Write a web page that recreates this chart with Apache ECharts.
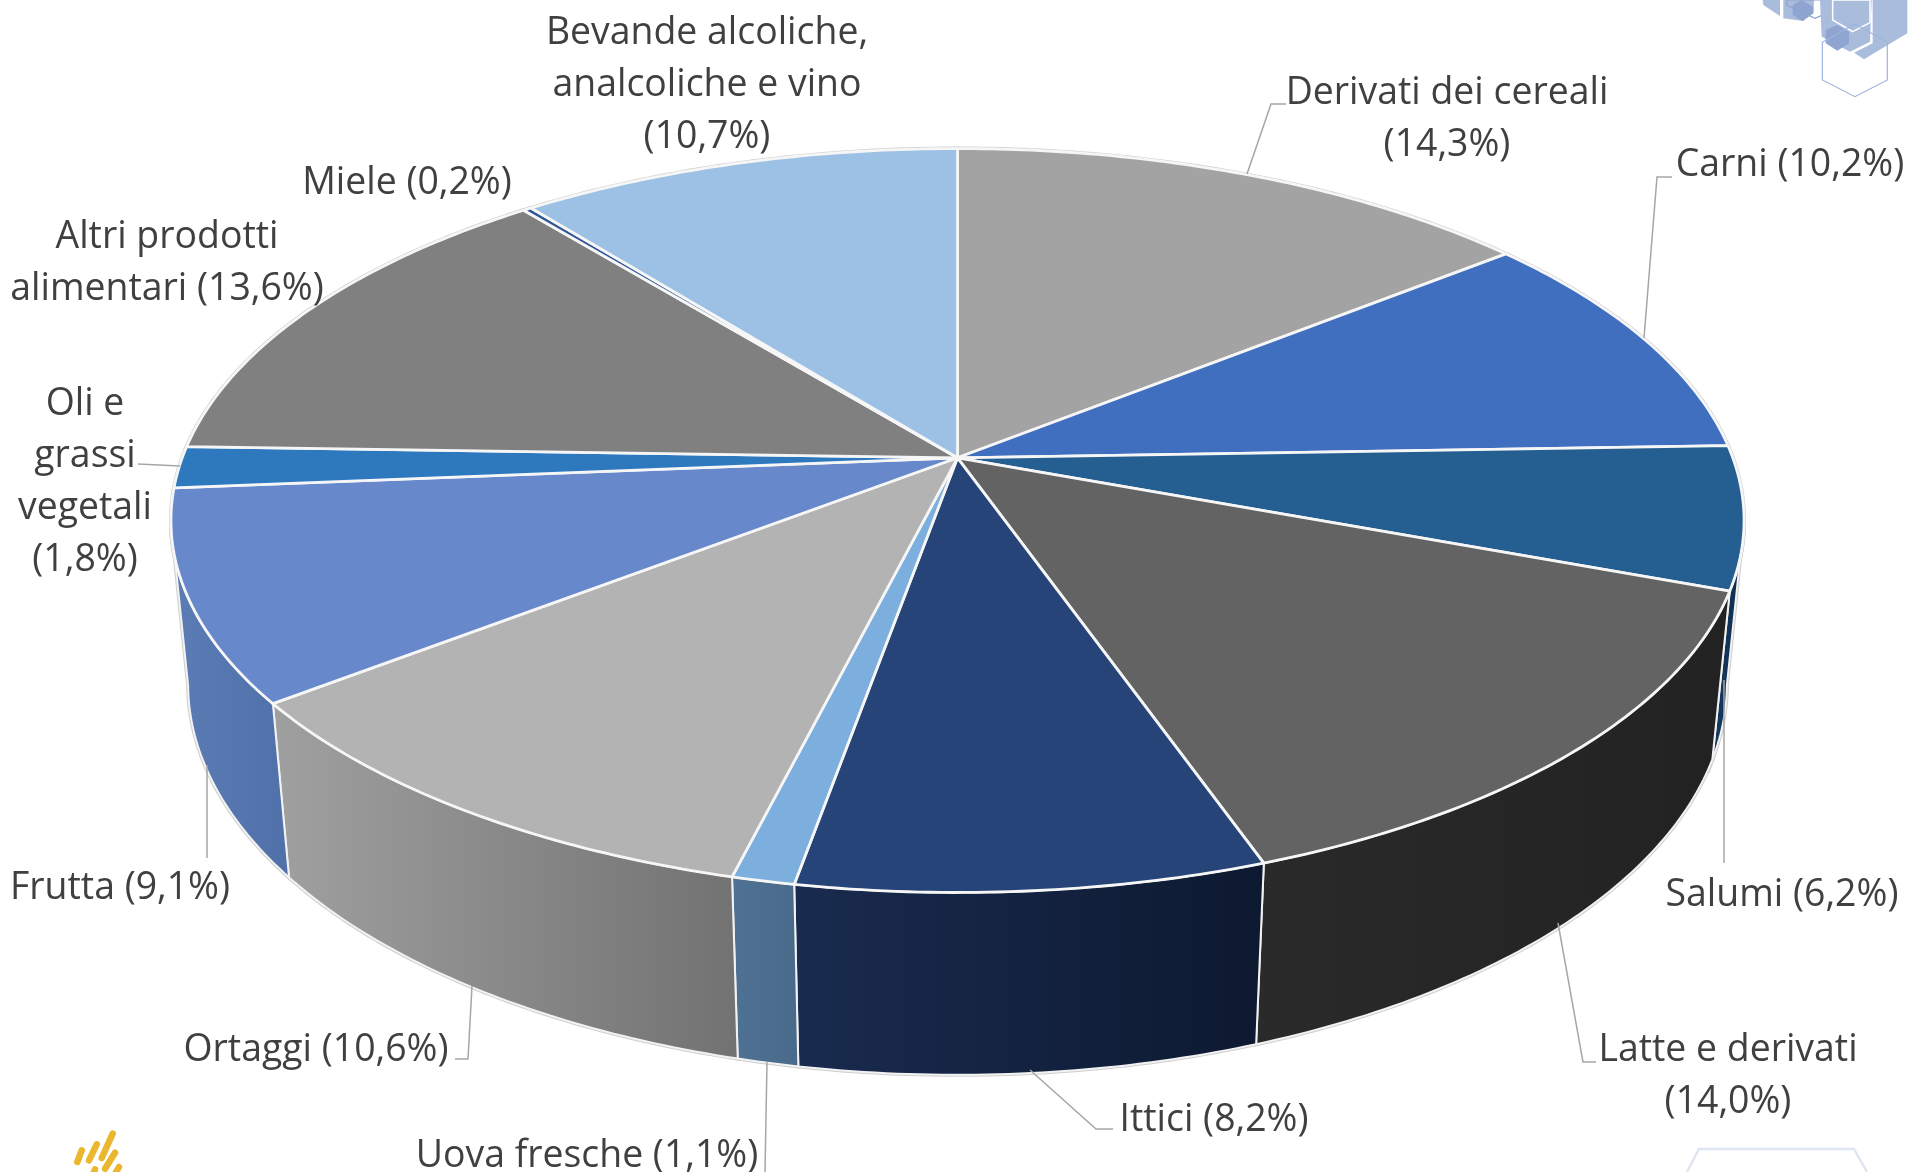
<!DOCTYPE html>
<html>
<head>
<meta charset="utf-8">
<title>Composizione</title>
<script src="https://cdn.jsdelivr.net/npm/echarts@6/dist/echarts.min.js"></script>
<style>
	html, body { margin: 0; padding: 0; background: #fff; }
	#main { width: 1909px; height: 1172px; }
</style>
</head>
<body>
<div id="main"></div>
<script>
// slices, clockwise from 12 o'clock
var categories = [
	'Derivati dei cereali',
	'Carni',
	'Salumi',
	'Latte e derivati',
	'Ittici',
	'Uova fresche',
	'Ortaggi',
	'Frutta',
	'Oli e\ngrassi\nvegetali',
	'Altri prodotti\nalimentari',
	'Miele',
	'Bevande alcoliche,\nanalcoliche e vino',
]
// they round to the printed labels
var values = [14.28, 10.18, 6.18, 13.96, 8.2, 1.1, 10.64, 9.14, 1.8, 13.6, 0.2, 10.7]

var topColors = [
	'#a3a3a3', '#416fc0', '#255e91', '#636363', '#264478', '#7cafdd',
	'#b3b3b3', '#6888cc', '#2e79be', '#808080', '#2f5597', '#9dc1e4',
]
var wallColorsFrom = [
	'#7a7a7a', '#2f4f88', '#153c63', '#2a2a2a', '#192b4f', '#4f7194',
	'#a0a0a0', '#5c7cb6', '#1f5485', '#595959', '#203b69', '#6d87a0',
]
var wallColorsTo = [
	'#7a7a7a', '#2f4f88', '#0e2a4a', '#222222', '#0d1930', '#496a8a',
	'#727272', '#5070a9', '#1f5485', '#595959', '#203b69', '#6d87a0',
]

// label block centres, same order as categories
var labelX = [1447, 1790, 1782, 1728, 1214, 587, 316, 120, 85, 167, 407, 707]
var labelY = [119, 165, 895, 1076, 1120, 1156, 1050, 888, 482, 263, 183, 85]
var labelBreak = [true, false, false, true, false, false, false, false, true, false, false, true]

// leader lines, measured on the picture
var leaderLines = [
	[[1247, 174], [1271, 104], [1286, 104]],
	[[1644, 338], [1657, 177], [1672, 177]],
	[[1724, 680], [1724, 863]],
	[[1558, 923], [1583, 1062], [1596, 1062]],
	[[1030, 1070], [1096, 1129], [1113, 1129]],
	[[767, 1062], [765, 1172]],
	[[472, 986], [468, 1059], [455, 1059]],
	[[207, 765], [207, 858]],
	[[180, 466], [138, 464]],
]

// projection of the tilted disc: centre, radii, perspective, wall height
var cx = 957.5
var cy = 457.8
var rx = 775.3
var ry = 361.4
var persp = 0.1686
var wallPersp = 0.0217
var wallDrop = 165

function project(frac, radial, depth) {
	var a = frac * Math.PI * 2
	var c = Math.sin(a)
	var s = -Math.cos(a)
	var w = 1 - persp * s * radial + wallPersp * depth
	return [cx + (rx * radial * c) / w, cy + (ry * radial * s + wallDrop * depth) / w]
}

// the wall is only seen on the front part of the rim
var frontStart = Math.acos(-persp) / (Math.PI * 2)
var frontEnd = 1 - frontStart

function arcFracs(from, to) {
	var list = []
	var n = Math.max(2, Math.ceil((to - from) / 0.002))
	for (var i = 0; i <= n; i++) {
		list.push(from + ((to - from) * i) / n)
	}
	return list
}

function topPoints(start, end) {
	var pts = [project(0, 0, 0)]
	arcFracs(start, end).forEach(function (f) {
		pts.push(project(f, 1, 0))
	})
	return pts
}

function wallPoints(start, end) {
	var from = Math.max(start, frontStart)
	var to = Math.min(end, frontEnd)
	if (to <= from) return null
	var fracs = arcFracs(from, to)
	var pts = fracs.map(function (f) {
		return project(f, 1, 0)
	})
	fracs.reverse().forEach(function (f) {
		pts.push(project(f, 1, 1))
	})
	return pts
}

function renderRim(params, api) {
	var children = [
		{
			type: 'polygon',
			shape: { points: topPoints(api.value(0), api.value(1)) },
			style: { fill: 'none', stroke: '#cfcfcf', lineWidth: 4 },
		},
	]
	var wall = wallPoints(api.value(0), api.value(1))
	if (wall) {
		children.push({
			type: 'polygon',
			shape: { points: wall },
			style: { fill: 'none', stroke: '#cfcfcf', lineWidth: 4 },
		})
	}
	return { type: 'group', children: children }
}

function renderWall(params, api) {
	var i = api.value(2)
	var wall = wallPoints(api.value(0), api.value(1))
	if (!wall) return { type: 'group', children: [] }
	return {
		type: 'polygon',
		shape: { points: wall },
		style: {
			fill: new echarts.graphic.LinearGradient(0, 0, 1, 0, [
				{ offset: 0, color: wallColorsFrom[i] },
				{ offset: 1, color: wallColorsTo[i] },
			]),
			stroke: '#f2f2f2',
			lineWidth: 2,
			lineJoin: 'round',
		},
	}
}

function renderTop(params, api) {
	return {
		type: 'polygon',
		shape: { points: topPoints(api.value(0), api.value(1)) },
		style: {
			fill: topColors[api.value(2)],
			stroke: '#f6f6f6',
			lineWidth: 2.8,
			lineJoin: 'round',
		},
	}
}

function labelText(i) {
	var pct = '(' + values[i].toFixed(1).replace('.', ',') + '%)'
	return categories[i] + (labelBreak[i] ? '\n' : ' ') + pct
}

var total = values.reduce(function (a, b) {
	return a + b
}, 0)
var running = 0
var sliceData = values.map(function (v, i) {
	var row = [running / total, (running + v) / total, i]
	running += v
	return row
})

function customSeries(fn, z) {
	return {
		type: 'custom',
		coordinateSystem: 'none',
		renderItem: fn,
		data: sliceData,
		z: z,
		silent: true,
		animation: false,
	}
}

var graphics = []

leaderLines.forEach(function (pts) {
	graphics.push({
		type: 'polyline',
		shape: { points: pts },
		style: { fill: 'none', stroke: '#a6a6a6', lineWidth: 1.5 },
		z: 20,
	})
})

categories.forEach(function (name, i) {
	graphics.push({
		type: 'text',
		x: labelX[i],
		y: labelY[i],
		style: {
			text: labelText(i),
			fill: '#404040',
			font: '37.4px "Open Sans"',
			align: 'center',
			verticalAlign: 'middle',
			lineHeight: 52,
		},
		z: 30,
	})
})

// corner decorations of the slide
function poly(points, fill, stroke, lineWidth) {
	return {
		type: 'polygon',
		shape: {
			points: points.map(function (p) {
				return [1720 + p[0] / 3, p[1] / 3]
			}),
		},
		style: { fill: fill, stroke: stroke || 'none', lineWidth: lineWidth || 0 },
		z: 1,
	}
}

graphics.push(poly([[128, 0], [130, 15], [180, 48], [180, 0]], '#a9bcdc'))
graphics.push(poly([[190, 0], [190, 55], [248, 63], [280, 40], [282, 0]], '#a9bcdc'))
graphics.push(poly([[218, 15], [245, 0], [280, 20], [280, 40], [248, 63], [218, 45]], '#8fa5cf'))
graphics.push(poly([[200, 0], [200, 15], [285, 55], [375, 15], [375, 0]], 'none', '#8ca4d2', 1.2))
graphics.push(poly([[300, 0], [305, 110], [390, 155], [450, 125], [455, 0]], '#a9bcdc'))
graphics.push(poly([[458, 0], [562, 0], [562, 100], [432, 178], [402, 158], [458, 130]], '#a9bcdc'))
graphics.push(poly([[317, 90], [352, 75], [387, 95], [387, 130], [352, 152], [317, 130]], '#8fa5cf'))
graphics.push(poly([[338, 0], [338, 60], [398, 95], [450, 68], [450, 0]], 'none', '#ffffff', 1.5))
graphics.push(poly([[405, 72], [502, 127], [502, 240], [405, 290], [307, 240], [307, 127]], 'none', '#9db4dd', 1.2))

graphics.push({
	type: 'polyline',
	shape: { points: [[1687, 1172], [1699, 1149], [1854, 1149], [1867, 1172]] },
	style: { fill: 'none', stroke: '#dfe6f2', lineWidth: 2.5 },
	z: 1,
})

var logoBars = [
	[[81.7, 1150.3], [77.3, 1162]],
	[[96.7, 1144.3], [89, 1160.3]],
	[[112.7, 1133.7], [101.7, 1158]],
	[[115, 1152.7], [105, 1168.7]],
	[[119, 1167], [115, 1174]],
	[[95, 1169.3], [93.3, 1174]],
]
logoBars.forEach(function (pts) {
	graphics.push({
		type: 'polyline',
		shape: { points: pts },
		style: { fill: 'none', stroke: '#eab72e', lineWidth: 6.5, lineCap: 'round' },
		z: 1,
	})
})

var myChart = echarts.init(document.getElementById('main'))
var option = {
	backgroundColor: '#ffffff',
	animation: false,
	graphic: { elements: graphics },
	series: [
		customSeries(renderRim, 2),
		customSeries(renderWall, 3),
		customSeries(renderTop, 4),
	],
}
myChart.setOption(option)
</script>
</body>
</html>
